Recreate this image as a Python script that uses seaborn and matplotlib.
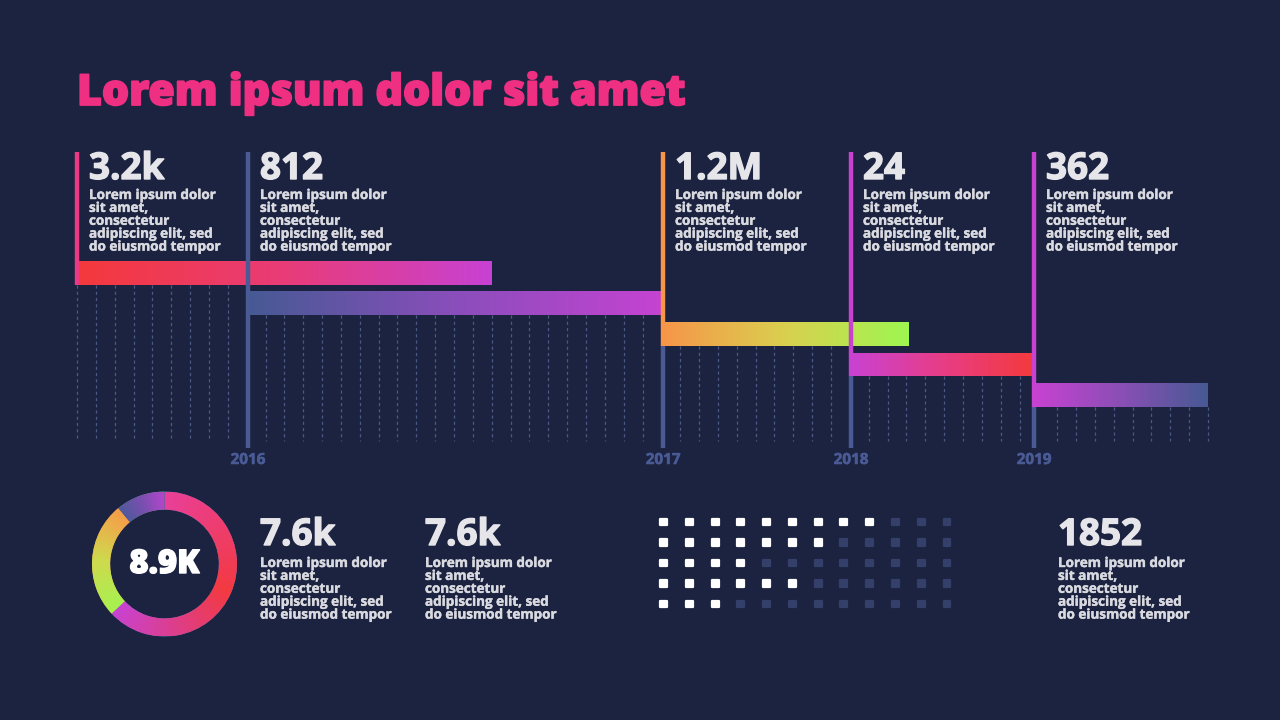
import numpy as np
import pandas as pd
import matplotlib
matplotlib.use("Agg")
import matplotlib.pyplot as plt
import matplotlib.patheffects as pe
from matplotlib.colors import LinearSegmentedColormap
from matplotlib.markers import MarkerStyle
import seaborn as sns

# ---- chart data ----
title = "Lorem ipsum dolor sit amet"
body_lines = ["Lorem ipsum dolor", "sit amet,", "consectetur",
              "adipiscing elit, sed", "do eiusmod tempor"]

event_values = ["3.2k", "812", "1.2M", "24", "362"]
event_start = [0.0, 9.07, 31.09, 41.06, 50.77]
event_end = [22.0, 31.09, 44.1, 50.77, 60.0]
event_line_colors = ["#ea3a86", "#4a5a94", "#f79649", "#c842d2", "#c842d2"]
bar_stops = [
    ["#f4393c", "#e93c78", "#c742d3"],
    ["#465a94", "#8a4ebb", "#c643d2"],
    ["#f79649", "#d9d04f", "#9ef651"],
    ["#c942d2", "#e83d85", "#f33a3c"],
    ["#c842d2", "#8a4fb5", "#465a94"],
]
year_labels = ["2016", "2017", "2018", "2019"]
year_pos = [9.07, 31.09, 41.06, 50.77]
timeline_end = 60

donut_label = "8.9K"
donut_values = [63, 26, 11]
donut_stops = [
    ["#e9409a", "#f33a42", "#c843d2"],
    ["#a6f250", "#cfd94e", "#f79c49"],
    ["#51599c", "#7a4fb0", "#b347cc"],
]

stat_values = ["7.6k", "7.6k", "1852"]
stat_x_px = [259, 424, 1057]

dot_active = [9, 7, 4, 6, 3]
dot_cols = 12

# ---- style ----
BG = "#1b2340"
SLATE = "#4a5a94"
TEXT = "#d9d9e0"
NUM = "#e6e6ea"
PINK = "#ef2f82"

sns.set_theme(style="dark", rc={"axes.facecolor": BG, "figure.facecolor": BG})
plt.rcParams["font.family"] = ["Open Sans", "DejaVu Sans"]

W, H = 1280, 720
fig = plt.figure(figsize=(W / 100, H / 100), dpi=100)


def box(x0, y0, x1, y1):
    # pixel box (top-left origin) -> figure fraction rect
    return [x0 / W, 1 - y1 / H, (x1 - x0) / W, (y1 - y0) / H]


def fx(x):
    return x / W


def fy(y):
    return 1 - y / H


def thick(color, lw):
    # fake a heavier weight by stroking the glyph outline
    return [pe.withStroke(linewidth=lw, foreground=color)]


fig.text(fx(77), fy(105), title, color=PINK, fontsize=30.8,
         fontweight="heavy", va="baseline", path_effects=thick(PINK, 1.3))

# ---- timeline ----
ax = fig.add_axes(box(77, 152, 1208, 448))
ax.set_axis_off()
y_top, y_bot, dash_bot = -3.954, 5.735, 5.5
bar_h = 0.776
grad = np.linspace(0, 1, 256).reshape(1, -1)

for k in range(0, timeline_end + 1):
    if min(abs(k - p) for p in year_pos) < 0.4:
        continue
    seg = max(i for i, s in enumerate(event_start) if s <= k)
    ax.plot([k, k], [seg + bar_h / 2, dash_bot], color="#4a5985", lw=0.9,
            ls=(0, (2.5, 2.5)), zorder=1, clip_on=False)

for i in range(len(event_values)):
    s, e = event_start[i], event_end[i]
    patch = ax.barh(i, e - s, left=s, height=bar_h, color=bar_stops[i][0],
                    linewidth=0, zorder=2)[0]
    cmap = LinearSegmentedColormap.from_list(f"bar{i}", bar_stops[i])
    im = ax.imshow(grad, cmap=cmap, aspect="auto", interpolation="bicubic",
                   extent=(s, e, i + bar_h / 2, i - bar_h / 2), zorder=2.1)
    im.set_clip_path(patch)

for i, s in enumerate(event_start):
    ax.plot([s, s], [y_top, i + bar_h / 2], color=event_line_colors[i], lw=3.2,
            solid_capstyle="butt", zorder=3, clip_on=False)
    if i > 0:
        ax.plot([s, s], [i + bar_h / 2, y_bot], color=SLATE, lw=3.2,
                solid_capstyle="butt", zorder=3, clip_on=False)
    ax.annotate(event_values[i], xy=(s, y_top), xytext=(12, -27),
                textcoords="offset pixels", color=NUM, fontsize=26.5,
                fontweight="bold", va="baseline", annotation_clip=False,
                path_effects=thick(NUM, 1.0))
    for j, line in enumerate(body_lines):
        ax.annotate(line, xy=(s, y_top), xytext=(12, -47 - 12.9 * j),
                    textcoords="offset pixels", color=TEXT, fontsize=9.7,
                    fontweight="bold", va="baseline", annotation_clip=False,
                    path_effects=thick(TEXT, 0.3))

for lab, p in zip(year_labels, year_pos):
    ax.annotate(lab, xy=(p, y_bot), xytext=(0, -16), textcoords="offset pixels",
                ha="center", va="baseline", color=SLATE, fontsize=11,
                fontweight="bold", annotation_clip=False,
                path_effects=thick(SLATE, 0.4))

ax.set_xlim(0, timeline_end)
ax.set_ylim(y_bot, y_top)

# ---- donut ----
dax = fig.add_axes(box(92, 491.5, 237, 636.5))
dax.set_axis_off()
wedges, _ = dax.pie(donut_values, startangle=90, counterclock=False, radius=1,
                    wedgeprops=dict(width=0.25, linewidth=0))
n = 500
xs = np.linspace(-1, 1, n)
X, Y = np.meshgrid(xs, xs[::-1])
theta = (90 - np.degrees(np.arctan2(Y, X))) % 360
total = sum(donut_values)
a0 = 0.0
for k, w in enumerate(wedges):
    span = 360 * donut_values[k] / total
    t = np.clip((theta - a0) / span, 0, 1)
    cmap = LinearSegmentedColormap.from_list(f"d{k}", donut_stops[k])
    im = dax.imshow(cmap(t), extent=(-1, 1, -1, 1), zorder=3)
    im.set_clip_path(w)
    a0 += span
dax.text(0, 0, donut_label, ha="center", va="center", color="white",
         fontsize=23.5, fontweight="heavy", zorder=5,
         path_effects=thick("white", 1.0))
dax.set_xlim(-1, 1)
dax.set_ylim(-1, 1)
dax.set_aspect("equal")

# ---- stats ----
for val, x in zip(stat_values, stat_x_px):
    fig.text(fx(x + 1), fy(545), val, color=NUM, fontsize=26.5,
             fontweight="bold", va="baseline", path_effects=thick(NUM, 1.0))
    for j, line in enumerate(body_lines):
        fig.text(fx(x + 1), fy(567 + 12.9 * j), line, color=TEXT, fontsize=9.7,
                 fontweight="bold", va="baseline", path_effects=thick(TEXT, 0.3))

# ---- dot grid ----
gax = fig.add_axes(box(650.7, 511.75, 959.9, 614.25))
gax.set_axis_off()
rows = []
for r, cnt in enumerate(dot_active):
    for c in range(dot_cols):
        rows.append({"col": c, "row": r, "state": "on" if c < cnt else "off"})
dots = pd.DataFrame(rows)
sns.scatterplot(data=dots, x="col", y="row", hue="state",
                palette={"on": "#ffffff", "off": "#34406a"},
                marker=MarkerStyle("s", joinstyle="round"), s=25,
                edgecolor="face", linewidth=1.6, legend=False, ax=gax)
gax.set_xlim(-0.5, dot_cols - 0.5)
gax.set_ylim(len(dot_active) - 0.5, -0.5)

fig.savefig("out.png", dpi=100, facecolor=BG)
